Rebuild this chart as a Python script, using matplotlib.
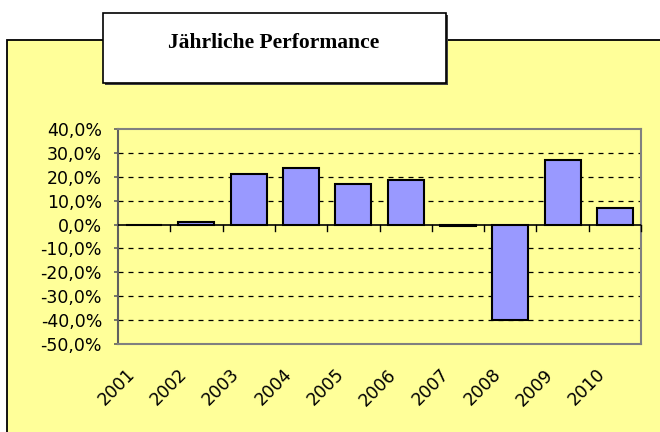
import numpy as np
import matplotlib
matplotlib.use("Agg")
import matplotlib.pyplot as plt
from matplotlib.patches import Rectangle
from matplotlib.ticker import FuncFormatter, MultipleLocator

years = ["2001", "2002", "2003", "2004", "2005", "2006", "2007", "2008", "2009", "2010"]
performance = [0.0, 1.0, 21.2, 23.8, 17.0, 18.8, -0.8, -39.9, 26.9, 7.0]   # in %
title = "Jährliche Performance"

YELLOW = "#FFFF99"
BAR = "#9999FF"

fig = plt.figure(figsize=(6.6, 4.32), dpi=100)
fig.patch.set_facecolor("white")

# outer chart frame (yellow, runs off the right / bottom edge)
fig.patches.append(Rectangle((7 / 660, -0.05), 1.0, 0.9074 + 0.05,
                             transform=fig.transFigure, facecolor=YELLOW,
                             edgecolor="black", linewidth=1.3, zorder=-3))

# title box with shadow
fig.patches.append(Rectangle((105 / 660, 1 - 85 / 432), 343 / 660, 70 / 432,
                             transform=fig.transFigure, facecolor="#404040",
                             edgecolor="none", zorder=-2))
fig.patches.append(Rectangle((103 / 660, 1 - 83 / 432), 343 / 660, 70 / 432,
                             transform=fig.transFigure, facecolor="white",
                             edgecolor="black", linewidth=1.2, zorder=-1))
fig.text(274 / 660, 1 - 43 / 432, title, ha="center", va="center",
         fontsize=15.5, fontweight="bold", family="Liberation Serif", zorder=3)

ax = fig.add_axes([118 / 660, 1 - 344 / 432, 523 / 660, 215 / 432])
ax.set_zorder(5)
ax.set_facecolor(YELLOW)

x = np.arange(len(years))
ax.bar(x, performance, width=0.69, color=BAR, edgecolor="black",
       linewidth=1.5, zorder=3)

ax.set_xlim(-0.5, len(years) - 0.5)
ax.set_ylim(-50, 40)
ax.yaxis.set_major_locator(MultipleLocator(10))
ax.yaxis.set_major_formatter(FuncFormatter(lambda v, _: f"{v:.1f}%".replace(".", ",")))

# dashed gridlines, solid zero line
for v in np.arange(-40, 40, 10):
    if v != 0:
        ax.axhline(v, color="black", linewidth=0.9, linestyle=(0, (4, 4)), zorder=1)
ax.axhline(0, color="black", linewidth=1.2, zorder=4)

# category boundary ticks hanging from the zero line
for b in x[:-1] + 0.5:
    ax.plot([b, b], [0, -2.8], color="black", linewidth=1.0, zorder=4)
ax.plot([x[-1] + 0.5] * 2, [0, -2.8], color="black", linewidth=1.0, zorder=4, clip_on=False)

for s in ax.spines.values():
    s.set_color("#808080")
    s.set_linewidth(1.5)
ax.spines["left"].set_color("#606060")

# rotated labels sit a little left of the category centre
ax.set_xticks(x - 0.23)
ax.set_xticklabels(years, rotation=45, ha="right", va="center", rotation_mode="anchor",
                   fontsize=12.5, family="DejaVu Sans")
ax.tick_params(axis="x", length=0, pad=20)
ax.tick_params(axis="y", length=3, width=1.2, color="#606060", pad=8.5)
for lab in ax.get_yticklabels():
    lab.set_fontsize(12.5)

fig.savefig("out.png", dpi=100, facecolor=fig.get_facecolor())
